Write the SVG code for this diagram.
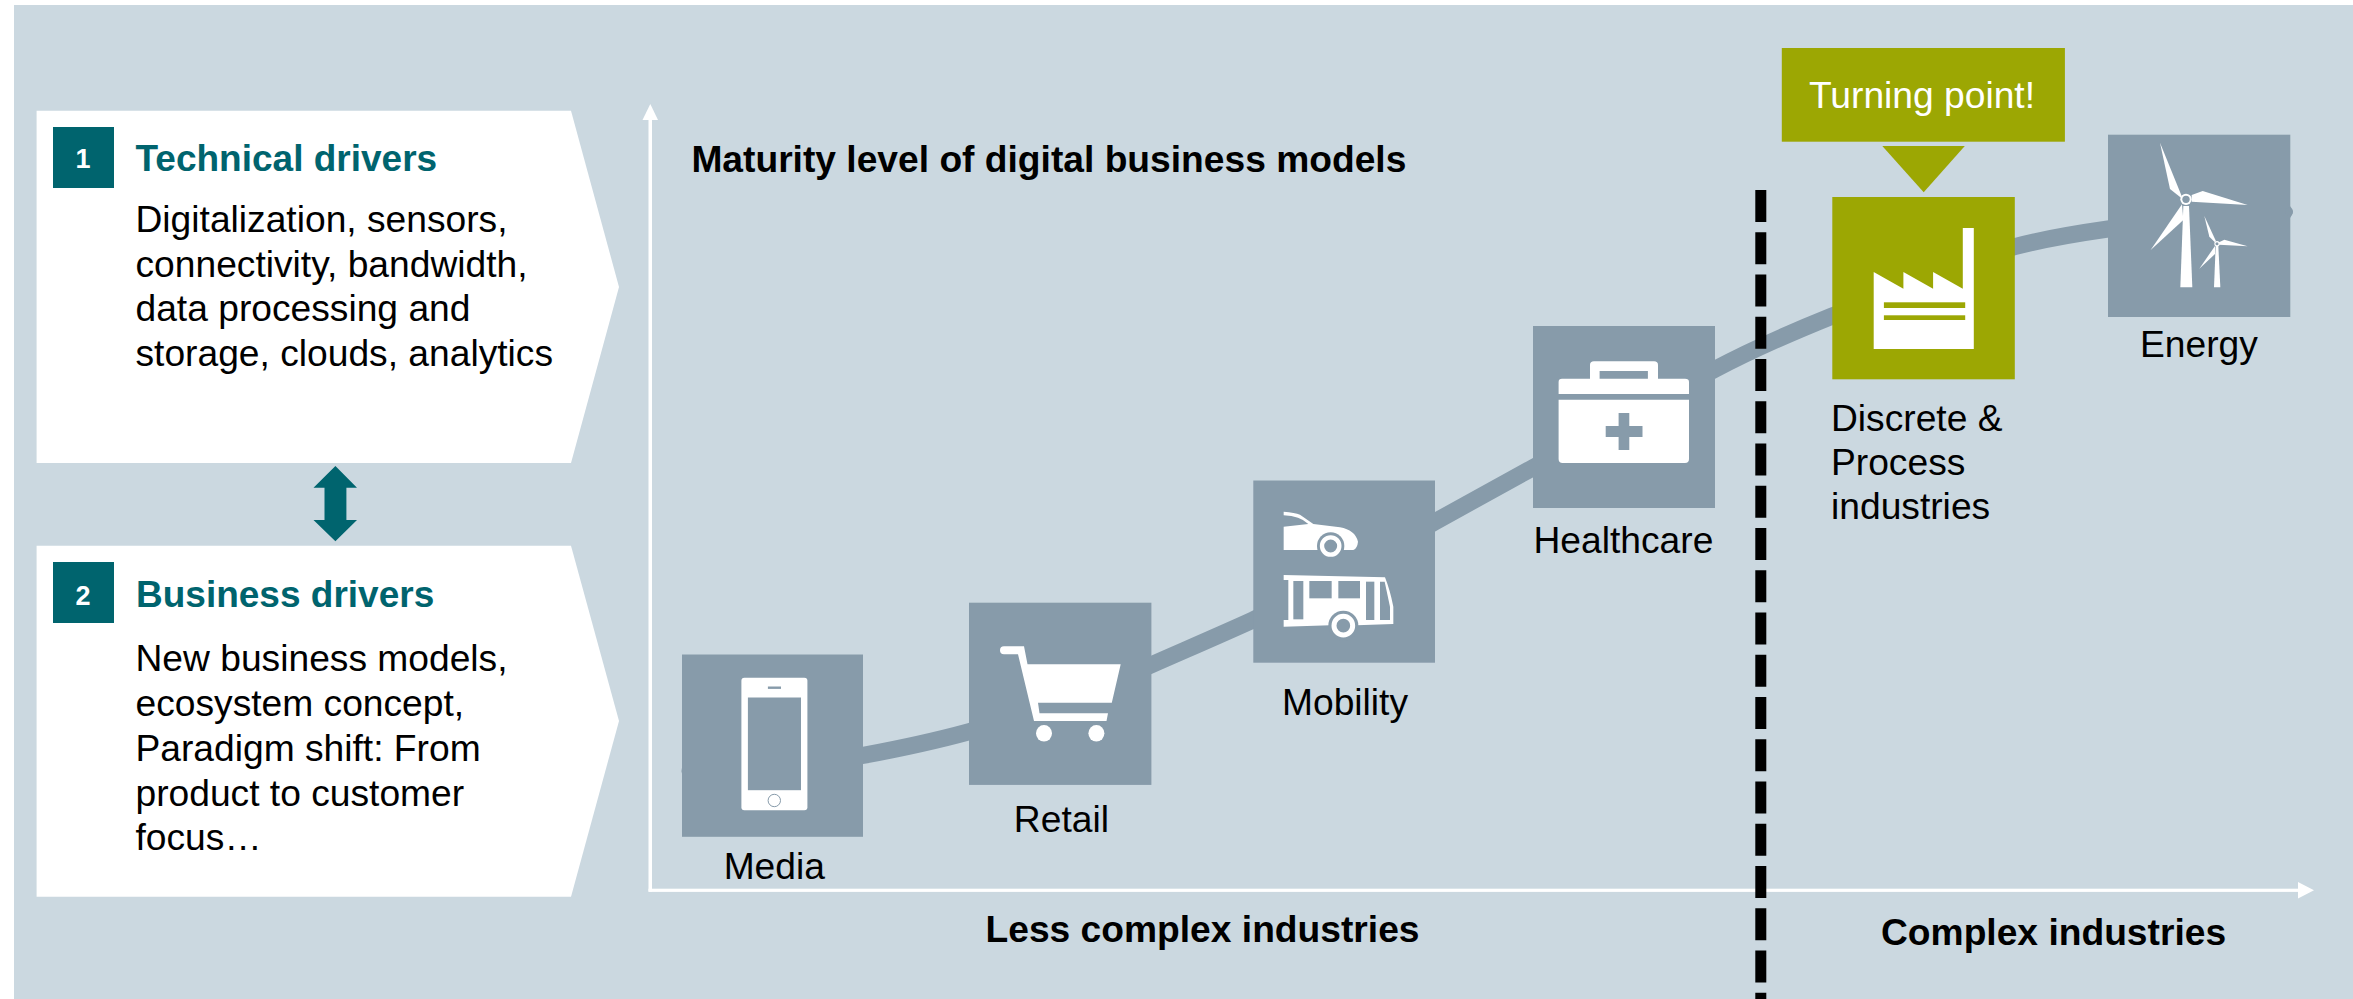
<svg xmlns="http://www.w3.org/2000/svg" width="2353" height="999" viewBox="0 0 2353 999">
<style>
text{font-family:"Liberation Sans",Arial,sans-serif;font-size:37.2px;fill:#000}
.b{font-weight:700}
.t{font-weight:700;fill:#00646e;font-size:37px}
.n{font-weight:700;fill:#fff;font-size:27px;text-anchor:middle}
.m{text-anchor:middle}
.box{fill:#fff}
.num{fill:#00646e}
.tile{fill:#879baa}
.ol{fill:#9ca703}
.ic{fill:#fff}
.g{fill:#879baa}
.go{fill:#9ca703}
</style>
<rect x="14" y="5" width="2339" height="994" fill="#cbd8e0"/>
<g id="axes" fill="#fff">
<rect x="648.5" y="118" width="3.5" height="773.5"/>
<polygon points="650.3,104 658,120 642.5,120"/>
<rect x="648.5" y="888.7" width="1652" height="3.2"/>
<polygon points="2314,890.3 2298,882 2298,898.5"/>
</g>
<g id="connectors">
<path d="M690,771 C750,768 810,765 863,755.4 C900,748.5 935,741 969,731.7 C1035,713 1095,690 1151,665 C1185,650 1220,635 1253,620 C1315,590 1375,555 1435,521.7 L1533,467.7 C1595,434 1655,401 1715,369.3 C1755,348 1795,331 1832.3,316 C1895,292 1955,264 2014.8,246.7 C2047,238 2080,233 2108,229 C2170,219 2230,214 2284,212" fill="none" stroke="#879baa" stroke-width="17" stroke-linecap="round"/>
<polygon id="double-arrow" class="num" points="335.4,466 357,487.7 346.4,487.7 346.4,520 357,520 335.4,541.3 313.5,520 324.5,520 324.5,487.7 313.5,487.7"/>
<line id="divider" x1="1760.8" y1="190" x2="1760.8" y2="999" stroke="#000" stroke-width="11" stroke-dasharray="32 10.25"/>
</g>
<g id="node-technical">
<polygon class="box" points="36.6,110.7 571,110.7 619,287 571,463 36.6,463"/>
<rect class="num" x="53" y="127" width="61" height="61"/>
<text class="n" x="83" y="168">1</text>
<text class="t" x="135.5" y="170.7">Technical drivers</text>
<text x="135.5" y="231.7">Digitalization, sensors,</text>
<text x="135.5" y="276.5">connectivity, bandwidth,</text>
<text x="135.5" y="321.2">data processing and</text>
<text x="135.5" y="366">storage, clouds, analytics</text>
</g>
<g id="node-business">
<polygon class="box" points="36.6,545.7 571,545.7 619,721 571,896.7 36.6,896.7"/>
<rect class="num" x="53" y="562" width="61" height="61"/>
<text class="n" x="83" y="605">2</text>
<text class="t" x="136" y="607">Business drivers</text>
<text x="135.5" y="671.3">New business models,</text>
<text x="135.5" y="716.3">ecosystem concept,</text>
<text x="135.5" y="761.3">Paradigm shift: From</text>
<text x="135.5" y="806">product to customer</text>
<text x="135.5" y="849.5">focus…</text>
</g>
<text id="title" class="b" x="691.4" y="171.5">Maturity level of digital business models</text>
<text id="axis-left" class="b" x="985.5" y="941.8">Less complex industries</text>
<text id="axis-right" class="b" x="1881" y="944.8">Complex industries</text>
<g id="node-media">
<rect class="tile" x="682" y="654.5" width="181" height="182.3"/>
<rect class="ic" x="741.4" y="677.8" width="66" height="132.4" rx="3"/>
<rect class="g" x="747.9" y="697.5" width="53.1" height="92.7"/>
<rect class="g" x="767.9" y="686.5" width="13.1" height="2.4"/>
<circle cx="774.3" cy="800.5" r="6.2" fill="none" stroke="#879baa" stroke-width="1"/>
<text class="m" x="774.3" y="878.5">Media</text>
</g>
<g id="node-retail">
<rect class="tile" x="969" y="602.7" width="182.4" height="182.2"/>
<path class="ic" d="M1004,646.3 H1024 L1027.5,664.3 H1120.7 L1111.8,702.7 H1038 L1039.5,713.3 H1108 L1106.5,721 H1034 L1018,654.3 H1004 A4,4 0 0 1 1004,646.3Z"/>
<ellipse class="ic" cx="1044" cy="733.3" rx="8" ry="8.3"/>
<ellipse class="ic" cx="1096.4" cy="733.3" rx="8" ry="8.3"/>
<text class="m" x="1061.4" y="832.2">Retail</text>
</g>
<g id="node-mobility">
<rect class="tile" x="1253.3" y="480.5" width="181.7" height="182.2"/>
<g transform="translate(1240 480) scale(.33333)">
<path class="ic" d="M131,95 Q165,98 180,104 L220,132 L300,142 Q345,150 354,185 Q352,205 340,210 L131,210 V140 L205,132 Q180,108 131,106Z"/>
<circle class="g" cx="272" cy="198" r="41"/>
<circle cx="272" cy="198" r="26" fill="none" stroke="#fff" stroke-width="13"/>
<path class="ic" d="M131,285 L435,292 Q450,330 460,380 V432 L350,436 H270 L131,440 V420 H145 V300 H131Z"/>
<g class="g">
<rect x="160" y="303" width="30" height="115"/>
<rect x="208" y="303" width="67" height="52"/>
<rect x="295" y="303" width="65" height="52"/>
<rect x="378" y="305" width="25" height="115"/>
<polygon points="420,305 434,305 450,380 450,420 420,420"/>
<circle cx="310" cy="437" r="45"/>
</g>
<circle cx="310" cy="437" r="28" fill="none" stroke="#fff" stroke-width="15"/>
</g>
<text class="m" x="1345" y="715">Mobility</text>
</g>
<g id="node-healthcare">
<rect class="tile" x="1533" y="326" width="182" height="182"/>
<path class="ic" d="M1590,378.7 V365 Q1590,361.3 1594,361.3 H1654 Q1658,361.3 1658,365 V378.7 H1647.9 V371 H1599.6 V378.7 H1685 Q1689,378.7 1689,382 V394 H1558.6 V382 Q1558.6,378.7 1562,378.7Z"/>
<path class="ic" fill-rule="evenodd" d="M1558.6,399.7 H1689 V459 Q1689,463 1685,463 H1562.6 Q1558.6,463 1558.6,459Z M1618.6,413 V426 H1605.7 V437 H1618.6 V450 H1629.3 V437 H1642.5 V426 H1629.3 V413Z"/>
<text x="1533.5" y="553">Healthcare</text>
</g>
<g id="node-discrete">
<rect class="ol" x="1832.3" y="197" width="182.5" height="182.3"/>
<polygon class="ic" points="1873.7,272 1903.4,288.7 1903.4,272 1933.1,288.7 1933.1,272 1962.8,288.7 1962.8,228 1973.8,228 1973.8,349 1873.7,349"/>
<rect class="go" x="1883.9" y="302.3" width="81.3" height="5.7"/>
<rect class="go" x="1883.9" y="315.3" width="81.3" height="4.7"/>
<text x="1831" y="430.7">Discrete &amp;</text>
<text x="1831" y="475">Process</text>
<text x="1831" y="519.3">industries</text>
</g>
<g id="node-energy">
<rect class="tile" x="2108" y="134.7" width="182.3" height="182.3"/>
<circle class="tile" cx="2289" cy="211.7" r="4"/>
<g transform="translate(2080 120) scale(.33333)">
<g class="ic">
<polygon points="240,68 305,228 303,233 270,207"/>
<polygon points="503,255 368,213 335,225 335,245"/>
<polygon points="212,390 306,253 310,300"/>
<polygon points="301,502 337,502 327,258 310,258"/>
<circle cx="318" cy="238" r="17"/>
<polygon points="373,288 408,364 404,366 388,350"/>
<polygon points="503,379 433,359 417,367 417,374"/>
<polygon points="358,446 405,378 405,402"/>
<polygon points="402,502 421,502 415,378 407,378"/>
<circle cx="411" cy="371" r="8"/>
</g>
<circle class="g" cx="318" cy="238" r="11"/>
<circle class="g" cx="411" cy="371" r="4.5"/>
</g>
<text x="2140" y="357.3">Energy</text>
</g>
<g id="node-turning-point">
<rect class="ol" x="1781.8" y="48" width="283.1" height="93.7"/>
<polygon class="ol" points="1882.3,146 1964.8,146 1923.7,192.3"/>
<text x="1809" y="108.3" style="fill:#fff">Turning point!</text>
</g>
</svg>
